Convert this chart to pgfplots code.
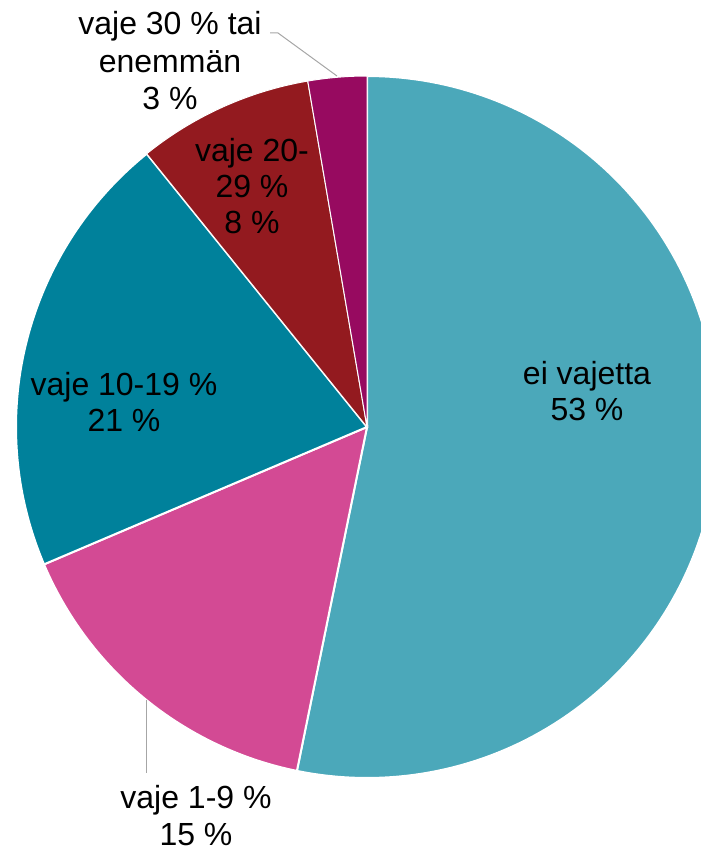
\documentclass[border=0pt]{standalone}
\usepackage{fontspec}
\setmainfont{Liberation Sans}
\usepackage{pgfplots}
\pgfplotsset{compat=1.18}
\definecolor{cA}{HTML}{4BA8BA}
\definecolor{cB}{HTML}{D34A94}
\definecolor{cC}{HTML}{00819B}
\definecolor{cD}{HTML}{931A1F}
\definecolor{cE}{HTML}{970A60}
\definecolor{lead}{HTML}{A6A6A6}
% shares in percent
\def\pA{53.2}\def\pB{15.4}\def\pC{20.6}\def\pD{8.1}\def\pE{2.7}
\def\cx{367}\def\cy{427}\def\R{351}
\pgfmathsetmacro\aA{\pA*3.6}
\pgfmathsetmacro\aB{(\pA+\pB)*3.6}
\pgfmathsetmacro\aC{(\pA+\pB+\pC)*3.6}
\pgfmathsetmacro\aD{(\pA+\pB+\pC+\pD)*3.6}
\pgfmathsetmacro\aE{(\pA+\pB+\pC+\pD+\pE)*3.6}
\tikzset{lbl/.style={font=\fontsize{32pt}{36pt}\selectfont, inner sep=0pt, anchor=base}}
\begin{document}
\begin{tikzpicture}
\begin{axis}[
  width=701pt, height=851pt, scale only axis,
  xmin=0, xmax=701, ymin=0, ymax=851, y dir=reverse,
  hide axis, clip=true,
]
\addplot[fill=cA, draw=white, line width=2pt, domain=0:\aA, samples=150, variable=\t]
  ({\cx+\R*sin(\t)},{\cy-\R*cos(\t)}) -- (\cx,\cy) -- cycle;
\addplot[fill=cB, draw=white, line width=2pt, domain=\aA:\aB, samples=60, variable=\t]
  ({\cx+\R*sin(\t)},{\cy-\R*cos(\t)}) -- (\cx,\cy) -- cycle;
\addplot[fill=cC, draw=white, line width=2pt, domain=\aB:\aC, samples=80, variable=\t]
  ({\cx+\R*sin(\t)},{\cy-\R*cos(\t)}) -- (\cx,\cy) -- cycle;
\addplot[fill=cD, draw=white, line width=1pt, domain=\aC:\aD, samples=40, variable=\t]
  ({\cx+\R*sin(\t)},{\cy-\R*cos(\t)}) -- (\cx,\cy) -- cycle;
\addplot[fill=cE, draw=white, line width=1pt, domain=\aD:\aE, samples=20, variable=\t]
  ({\cx+\R*sin(\t)},{\cy-\R*cos(\t)}) -- (\cx,\cy) -- cycle;
\addplot[lead, line width=1pt] coordinates {(270,33) (278,33) (337,76)};
\addplot[lead, line width=1pt] coordinates {(146,700) (146,773)};
\node[lbl] at (587,384) {ei vajetta};
\node[lbl] at (587,420) {53 \%};
\node[lbl] at (124,395) {vaje 10-19 \%};
\node[lbl] at (124,431) {21 \%};
\node[lbl] at (252,161) {vaje 20-};
\node[lbl] at (252,197) {29 \%};
\node[lbl] at (252,233) {8 \%};
\node[lbl] at (170,35) {vaje 30 \% tai};
\node[lbl] at (170,72) {enemmän};
\node[lbl] at (170,109) {3 \%};
\node[lbl] at (196,808) {vaje 1-9 \%};
\node[lbl] at (196,845) {15 \%};
\end{axis}
\pgfresetboundingbox
\useasboundingbox (0,0) rectangle (701pt,851pt);
\end{tikzpicture}
\end{document}
